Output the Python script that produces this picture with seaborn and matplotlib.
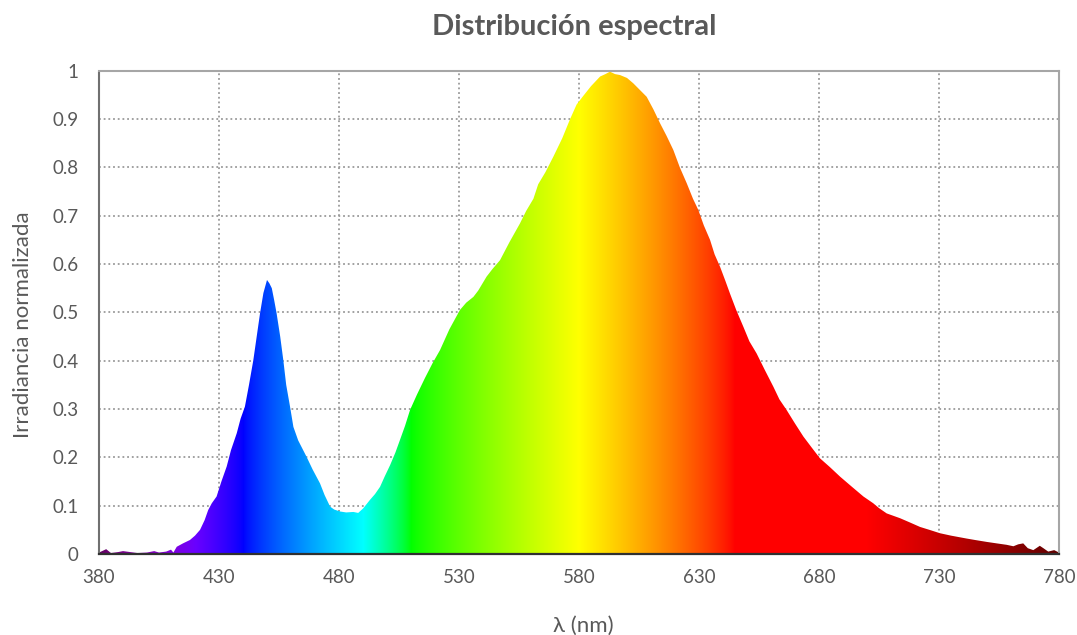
import numpy as np
import pandas as pd
import matplotlib
matplotlib.use("Agg")
import matplotlib.pyplot as plt
import seaborn as sns

# ---- data ----
wavelength = [380, 383, 385, 388, 390, 393, 396, 400, 403, 405, 408, 410, 411,
              412.4, 415, 417.9, 420, 422.1, 424, 425.5, 427, 429, 431, 433.2,
              435, 437.4, 439, 440.8, 442.5, 444.3, 446, 447.1, 448.5, 450,
              451, 452, 453, 454, 455.5, 456.8, 458, 459.6, 461, 463, 466.5,
              469, 472.1, 474, 476.3, 478, 480.4, 483, 486, 488, 490, 492.9,
              495, 497.1, 499, 501.3, 503.5, 505.4, 507.5, 509.6, 512.5, 515.8,
              519, 522.1, 526, 530.4, 533, 536, 538, 541.5, 544, 547.1, 551,
              555.4, 558, 561, 563, 566, 569.3, 573, 576.3, 579, 581.8, 585,
              588.8, 591, 592.9, 595, 597.1, 600, 602.6, 605, 608.2, 611,
              613.8, 616.5, 619.3, 622, 624.9, 627.5, 629.7, 632, 634.6, 636.5,
              638.8, 641, 642.9, 645.5, 648.5, 651, 654, 657.5, 661, 663.5,
              666.5, 670, 673.5, 677, 680.4, 684.5, 688.8, 693.5, 698.5, 702.6,
              705, 708.2, 711, 713.8, 718, 722.1, 726, 730.4, 735, 741.5, 745,
              749.9, 754, 758.2, 761, 763, 765.1, 767, 769.3, 772, 773.5, 775.5,
              778, 780]
irradiance = [0.003, 0.010, 0.002, 0.004, 0.006, 0.004, 0.002, 0.003, 0.006,
              0.003, 0.005, 0.009, 0.003, 0.015, 0.022, 0.029, 0.038, 0.050,
              0.070, 0.091, 0.105, 0.119, 0.150, 0.181, 0.215, 0.250, 0.280,
              0.305, 0.350, 0.401, 0.460, 0.498, 0.540, 0.567, 0.560, 0.550,
              0.525, 0.498, 0.450, 0.401, 0.350, 0.305, 0.263, 0.235, 0.201,
              0.175, 0.146, 0.122, 0.098, 0.092, 0.088, 0.086, 0.087, 0.085,
              0.094, 0.112, 0.124, 0.139, 0.160, 0.184, 0.210, 0.236, 0.265,
              0.298, 0.330, 0.364, 0.395, 0.422, 0.465, 0.505, 0.520, 0.532,
              0.545, 0.574, 0.590, 0.608, 0.645, 0.684, 0.710, 0.735, 0.765,
              0.790, 0.822, 0.860, 0.900, 0.930, 0.948, 0.968, 0.988, 0.993,
              0.998, 0.993, 0.991, 0.985, 0.974, 0.962, 0.946, 0.920, 0.891,
              0.865, 0.836, 0.800, 0.767, 0.735, 0.712, 0.680, 0.650, 0.620,
              0.594, 0.565, 0.539, 0.505, 0.470, 0.440, 0.415, 0.380, 0.346,
              0.320, 0.298, 0.270, 0.243, 0.220, 0.198, 0.180, 0.160, 0.140,
              0.119, 0.105, 0.095, 0.084, 0.079, 0.074, 0.065, 0.056, 0.050,
              0.043, 0.038, 0.032, 0.029, 0.025, 0.022, 0.019, 0.016, 0.020,
              0.022, 0.012, 0.008, 0.017, 0.012, 0.005, 0.008, 0.003]

x_ticks = [380, 430, 480, 530, 580, 630, 680, 730, 780]
y_ticks = [0, 0.1, 0.2, 0.3, 0.4, 0.5, 0.6, 0.7, 0.8, 0.9, 1]
y_tick_labels = ["0", "0.1", "0.2", "0.3", "0.4", "0.5", "0.6", "0.7", "0.8", "0.9", "1"]

title = "Distribución espectral"
x_label = "λ (nm)"
y_label = "Irradiancia normalizada"


def wavelength_to_rgb(lam, gamma=0.8):
    lam = np.asarray(lam, dtype=float)
    r = np.zeros_like(lam); g = np.zeros_like(lam); b = np.zeros_like(lam)
    m = (lam >= 380) & (lam < 440); r[m] = -(lam[m] - 440) / 60; b[m] = 1
    m = (lam >= 440) & (lam < 490); g[m] = (lam[m] - 440) / 50; b[m] = 1
    m = (lam >= 490) & (lam < 510); g[m] = 1; b[m] = -(lam[m] - 510) / 20
    m = (lam >= 510) & (lam < 580); r[m] = (lam[m] - 510) / 70; g[m] = 1
    m = (lam >= 580) & (lam < 645); r[m] = 1; g[m] = -(lam[m] - 645) / 65
    m = (lam >= 645); r[m] = 1
    f = np.ones_like(lam)
    m = lam < 420; f[m] = 0.3 + 0.7 * (lam[m] - 380) / 40
    m = lam > 700; f[m] = 0.3 + 0.7 * (780 - lam[m]) / 80
    rgb = np.stack([r, g, b], axis=-1) * f[:, None]
    return np.clip(rgb, 0, 1) ** gamma


sns.set_theme(style="white")
plt.rcParams["font.family"] = ["Lato", "DejaVu Sans"]
text_color = "#595959"

fig = plt.figure(figsize=(10.77, 6.35), dpi=100)
ax = fig.add_axes([99 / 1077, 1 - 554 / 635, 960 / 1077, (554 - 70.7) / 635])

df = pd.DataFrame({"wl": wavelength, "irr": irradiance})
sns.lineplot(data=df, x="wl", y="irr", ax=ax, linewidth=0, zorder=3)

fill = ax.fill_between(df["wl"], 0, df["irr"], facecolor="none", edgecolor="none")
lam = np.arange(380, 780.5, 0.5)
img = wavelength_to_rgb(lam)[np.newaxis, :, :]
im = ax.imshow(img, extent=[380, 780, 0, 1], aspect="auto", origin="lower",
               interpolation="bilinear", zorder=1)
im.set_clip_path(fill.get_paths()[0], transform=ax.transData)

ax.set_xlim(380, 780)
ax.set_ylim(0, 1)
ax.set_xticks(x_ticks)
ax.set_xticklabels([str(t) for t in x_ticks])
ax.set_yticks(y_ticks)
ax.set_yticklabels(y_tick_labels)

ax.set_axisbelow(True)
ax.grid(True, color="#9a9a9a", linestyle=(0, (1, 1.6)), linewidth=1.3, zorder=0)

for s in ["top", "right"]:
    ax.spines[s].set_color("#a6a6a6")
    ax.spines[s].set_linewidth(1.5)
ax.spines["left"].set_color("#707070")
ax.spines["left"].set_linestyle((0, (1, 1)))
ax.spines["left"].set_linewidth(1.5)
ax.spines["bottom"].set_color("#303030")
ax.spines["bottom"].set_linestyle((0, (1, 1)))
ax.spines["bottom"].set_linewidth(1.6)
for s in ax.spines.values():
    s.set_zorder(4)

ax.tick_params(axis="both", length=0, labelsize=13.5, labelcolor=text_color)
ax.tick_params(axis="y", pad=14.5)
ax.tick_params(axis="x", pad=11)

ax.set_xlabel(x_label, fontsize=16, color=text_color)
ax.set_ylabel(y_label, fontsize=16, color=text_color)
ax.xaxis.set_label_coords(0.505, -0.127)
ax.yaxis.set_label_coords(-0.069, 0.475)
fig.text(0.533, 1 - 27 / 635, title, ha="center", va="center",
         fontsize=21, fontweight="bold", color=text_color)

fig.savefig("out.png", dpi=100)
